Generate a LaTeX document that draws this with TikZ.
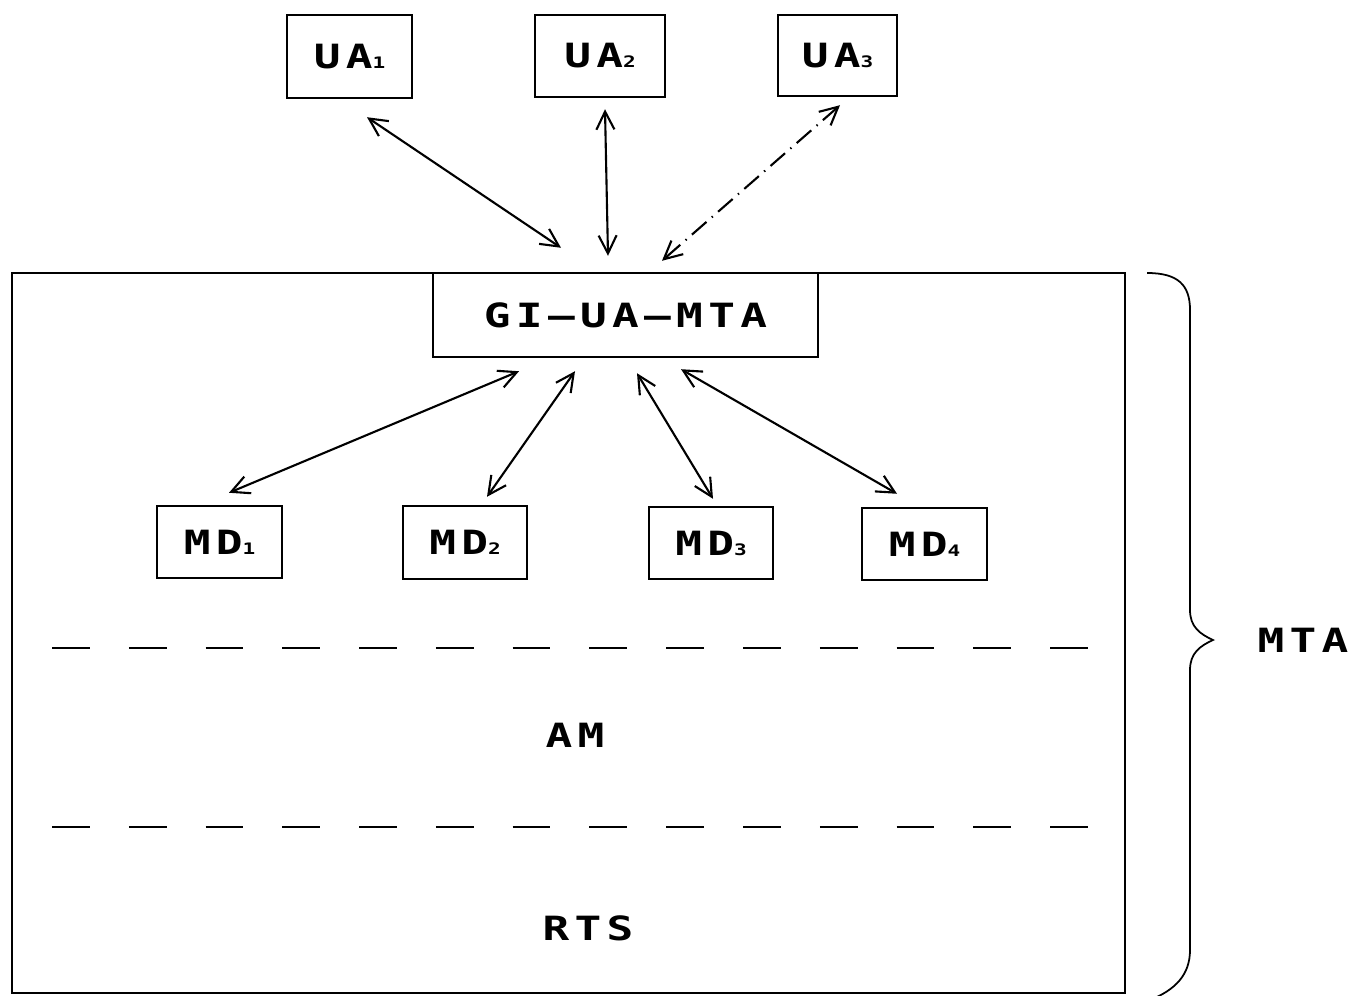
\documentclass[tikz,border=0pt]{standalone}
\usepackage{fontspec}
\setmainfont[LetterSpace=12,BoldFont={DejaVu Sans Mono Bold}]{DejaVu Sans Mono}
\usetikzlibrary{arrows.meta,calc}
\begin{document}
\begin{tikzpicture}[x=0.02cm,y=-0.02cm,
  txt/.style={font=\fontsize{19}{21}\selectfont\bfseries},
  box/.style={draw,line width=1.4pt,inner sep=0pt,txt},
  arr/.style={{Straight Barb[length=3.6mm,width=3.6mm,line width=1.2pt]}-{Straight Barb[length=3.6mm,width=3.6mm,line width=1.2pt]},line width=1.2pt},
  dashdot/.style={arr,dash pattern=on 11pt off 4pt on 0.8pt off 4pt},
  sep/.style={line width=1.6pt,dash pattern=on 21.5pt off 22.2pt},
  lbl/.style={txt,inner sep=0pt}]
\newcommand{\sbs}[1]{{\fontsize{9}{9}\selectfont #1}}
\newcommand{\wide}[1]{\scalebox{1.33}[1]{#1}}
\useasboundingbox (0,0) rectangle (1355,996);
% big box
\node[draw,line width=1.4pt,minimum width=1113*0.02cm,minimum height=720*0.02cm,inner sep=0pt] (mta) at (568.5,633) {};
% UA boxes
\node[box,minimum width=2.5cm,minimum height=1.66cm] (ua1) at (349.5,56.5) {\wide{UA\sbs{1}}};
\node[box,minimum width=2.6cm,minimum height=1.64cm] (ua2) at (600,56) {\wide{UA\sbs{2}}};
\node[box,minimum width=2.38cm,minimum height=1.62cm] (ua3) at (837.5,55.5) {\wide{UA\sbs{3}}};
% GI box
\node[box,minimum width=7.7cm,minimum height=1.68cm] (gi) at (625.5,315) {\wide{GI–UA–MTA}};
% MD boxes
\node[box,minimum width=2.5cm,minimum height=1.44cm] (md1) at (219.5,542) {\wide{MD\sbs{1}}};
\node[box,minimum width=2.48cm,minimum height=1.46cm] (md2) at (465,542.5) {\wide{MD\sbs{2}}};
\node[box,minimum width=2.48cm,minimum height=1.44cm] (md3) at (711,543) {\wide{MD\sbs{3}}};
\node[box,minimum width=2.5cm,minimum height=1.44cm] (md4) at (924.5,544) {\wide{MD\sbs{4}}};
% arrows UA <-> GI
\draw[arr] ($(ua1.south)+(17.5,18)$) -- ($(gi.north)+(-64.5,-24)$);
\draw[arr] ($(ua2.south)+(5,11)$) -- ($(gi.north)+(-17.5,-16)$);
\draw[dashdot] ($(ua3.south)+(2.5,8)$) -- ($(gi.north)+(36.5,-11)$);
% arrows GI <-> MD
\draw[arr] ($(gi.south)+(-106.5,13)$) -- ($(md1.north)+(9.5,-12)$);
\draw[arr] ($(gi.south)+(-50.5,13)$) -- ($(md2.north)+(22,-8)$);
\draw[arr] ($(gi.south)+(11.5,15)$) -- ($(md3.north)+(2,-7)$);
\draw[arr] ($(gi.south)+(55.5,11)$) -- ($(md4.north)+(-27.5,-13)$);
% separators
\coordinate (s1a) at (52,648); \coordinate (s1b) at (1093,648);
\coordinate (s2a) at (52,827); \coordinate (s2b) at (1093,827);
\draw[sep] (s1a) -- (s1b);
\draw[sep] (s2a) -- (s2b);
% layer labels
\node[lbl] (am) at (575,735) {\wide{AM}};
\node[lbl] (rts) at (588,928) {\wide{RTS}};
% brace
\draw[line width=1pt] (1147,273) .. controls (1178,273) and (1190,285) .. (1190,310)
  -- (1190,610) .. controls (1190,627) and (1200,634) .. (1213,640)
  .. controls (1200,646) and (1190,653) .. (1190,670)
  -- (1190,950) .. controls (1190,975) and (1175,990) .. (1150,1000);
\node[lbl] (mtal) at (1303,640) {\wide{MTA}};
\end{tikzpicture}
\end{document}
